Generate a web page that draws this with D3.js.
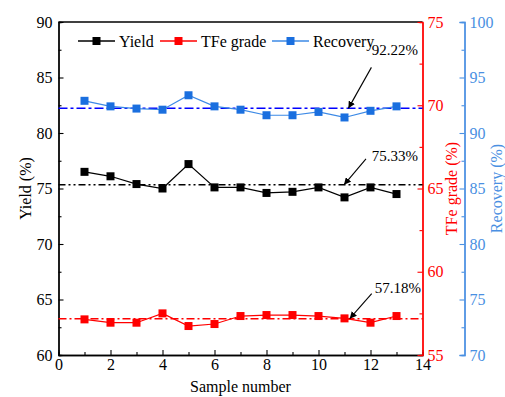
<!DOCTYPE html>
<html lang="en">
<head>
	<meta charset="UTF-8">
	<title>Yield, TFe grade and recovery by sample</title>
	<script src="https://cdn.jsdelivr.net/npm/d3@7"></script>
	<style>
		body {
			margin: 0;
			background: #fff;
		}
		svg text {
			font-family: "Liberation Serif", "Times New Roman", serif;
		}
	</style>
</head>
<body>
<script>
	// data
	var samples = [1, 2, 3, 4, 5, 6, 7, 8, 9, 10, 11, 12, 13];
	var yieldVals = [76.5, 76.1, 75.4, 75.0, 77.2, 75.1, 75.1, 74.6, 74.7, 75.1, 74.2, 75.1, 74.5];
	var gradeVals = [57.14, 56.94, 56.94, 57.5, 56.74, 56.86, 57.34, 57.4, 57.4, 57.34, 57.2, 56.94, 57.34];
	var recoveryVals = [92.9, 92.4, 92.2, 92.1, 93.4, 92.4, 92.1, 91.6, 91.6, 91.9, 91.4, 92.0, 92.4];
	var means = [75.33, 57.18, 92.22];
	var seriesNames = ["Yield", "TFe grade", "Recovery"];
	var xTicks = [0, 2, 4, 6, 8, 10, 12, 14];
	var yieldTicks = [60, 65, 70, 75, 80, 85, 90];
	var gradeTicks = [55, 60, 65, 70, 75];
	var recoveryTicks = [70, 75, 80, 85, 90, 95, 100];

	var width = 505,
		height = 397;
	// plot box (note: "top" is taken by window.top)
	var pLeft = 58.5, pRight = 422.5, pTop = 22, pBottom = 355;
	var axis3 = 464.5;

	var red = "#ff0000",
		blueMark = "#1a6fdf",
		blueLine = "#3d8ae6",
		blueAxis = "#4a90e2";

	var svg = d3.select("body").append("svg")
		.attr("width", width)
		.attr("height", height);

	var x = d3.scaleLinear().domain([0, 14]).range([pLeft, pRight]);
	var yY = d3.scaleLinear().domain([60, 90]).range([pBottom, pTop]);
	var yG = d3.scaleLinear().domain([55, 75]).range([pBottom, pTop]);
	var yR = d3.scaleLinear().domain([70, 100]).range([pBottom, pTop]);

	function styleAxis(g, color) {
		g.select(".domain").attr("stroke", color).attr("stroke-width", 1.3);
		g.selectAll(".tick line").attr("stroke", color).attr("stroke-width", 1.1);
		g.selectAll(".tick text")
			.attr("fill", color)
			.style("font-size", "16px")
			.style("font-family", "'Liberation Serif', serif");
	}

	function mids(ticks) {
		var m = [];
		for (var i = 0; i < ticks.length - 1; i++) m.push((ticks[i] + ticks[i + 1]) / 2);
		return m;
	}

	// top border
	svg.append("line")
		.attr("x1", pLeft).attr("x2", pRight)
		.attr("y1", pTop).attr("y2", pTop)
		.attr("stroke", "#000").attr("stroke-width", 1.3);

	// left axis
	svg.append("g")
		.attr("transform", "translate(" + pLeft + ",0)")
		.call(d3.axisLeft(yY).tickValues(mids(yieldTicks)).tickSize(-3).tickFormat(""))
		.call(styleAxis, "#000");
	svg.append("g")
		.attr("transform", "translate(" + pLeft + ",0)")
		.call(d3.axisLeft(yY).tickValues(yieldTicks).tickSize(-5).tickPadding(6).tickSizeOuter(0))
		.call(styleAxis, "#000");

	// bottom axis
	svg.append("g")
		.attr("transform", "translate(0," + pBottom + ")")
		.call(d3.axisBottom(x).tickValues(mids(xTicks)).tickSize(-3).tickFormat(""))
		.call(styleAxis, "#000");
	svg.append("g")
		.attr("transform", "translate(0," + pBottom + ")")
		.call(d3.axisBottom(x).tickValues(xTicks).tickSize(-5).tickPadding(4).tickSizeOuter(0))
		.call(styleAxis, "#000");

	// TFe grade axis (red)
	svg.append("g")
		.attr("transform", "translate(" + pRight + ",0)")
		.call(d3.axisRight(yG).tickValues(mids(gradeTicks)).tickSize(-3).tickFormat(""))
		.call(styleAxis, red);
	svg.append("g")
		.attr("transform", "translate(" + pRight + ",0)")
		.call(d3.axisRight(yG).tickValues(gradeTicks).tickSize(-5).tickPadding(5).tickSizeOuter(0))
		.call(styleAxis, red);

	// Recovery axis (blue)
	svg.append("g")
		.attr("transform", "translate(" + axis3 + ",0)")
		.call(d3.axisRight(yR).tickValues(mids(recoveryTicks)).tickSize(-3).tickFormat(""))
		.call(styleAxis, blueAxis);
	svg.append("g")
		.attr("transform", "translate(" + axis3 + ",0)")
		.call(d3.axisRight(yR).tickValues(recoveryTicks).tickSize(-5).tickPadding(5).tickSizeOuter(-5))
		.call(styleAxis, blueAxis);

	// axis titles
	svg.append("text")
		.attr("transform", "translate(31," + ((pTop + pBottom) / 2) + ") rotate(-90)")
		.attr("text-anchor", "middle")
		.style("font-size", "16px")
		.text("Yield (%)");
	svg.append("text")
		.attr("transform", "translate(457," + ((pTop + pBottom) / 2) + ") rotate(-90)")
		.attr("text-anchor", "middle")
		.attr("fill", red)
		.style("font-size", "16px")
		.text("TFe grade (%)");
	svg.append("text")
		.attr("transform", "translate(502," + ((pTop + pBottom) / 2) + ") rotate(-90)")
		.attr("text-anchor", "middle")
		.attr("fill", blueAxis)
		.style("font-size", "16px")
		.text("Recovery (%)");
	svg.append("text")
		.attr("x", (pLeft + pRight) / 2)
		.attr("y", 392)
		.attr("text-anchor", "middle")
		.style("font-size", "16px")
		.text("Sample number");

	// mean lines
	var meanDefs = [
		{ v: means[0], scale: yY, color: "#000", dash: "7,3,2,3,2,3" },
		{ v: means[1], scale: yG, color: red, dash: "8,3,2,3" },
		{ v: means[2], scale: yR, color: "#0000ff", dash: "9,3,3,3" }
	];
	svg.selectAll(".mean")
		.data(meanDefs)
		.enter().append("line")
		.attr("class", "mean")
		.attr("x1", pLeft).attr("x2", pRight)
		.attr("y1", function (d) { return d.scale(d.v); })
		.attr("y2", function (d) { return d.scale(d.v); })
		.attr("stroke", function (d) { return d.color; })
		.attr("stroke-width", 1.5)
		.attr("stroke-dasharray", function (d) { return d.dash; });

	// series
	var series = [
		{ name: seriesNames[0], vals: yieldVals, scale: yY, line: "#000", mark: "#000" },
		{ name: seriesNames[1], vals: gradeVals, scale: yG, line: red, mark: red },
		{ name: seriesNames[2], vals: recoveryVals, scale: yR, line: blueLine, mark: blueMark }
	];
	var ms = 8;

	series.forEach(function (s) {
		var line = d3.line()
			.x(function (d, i) { return x(samples[i]); })
			.y(function (d) { return s.scale(d); });

		svg.append("path")
			.datum(s.vals)
			.attr("fill", "none")
			.attr("stroke", s.line)
			.attr("stroke-width", 1.2)
			.attr("d", line);

		svg.selectAll(null)
			.data(s.vals)
			.enter().append("rect")
			.attr("x", function (d, i) { return x(samples[i]) - ms / 2; })
			.attr("y", function (d) { return s.scale(d) - ms / 2; })
			.attr("width", ms)
			.attr("height", ms)
			.attr("fill", s.mark);
	});

	// legend
	var legendX = [78, 160, 272];
	var legend = svg.selectAll(".legend")
		.data(series)
		.enter().append("g")
		.attr("class", "legend")
		.attr("transform", function (d, i) { return "translate(" + legendX[i] + ",41)"; });
	legend.append("line")
		.attr("x1", 0).attr("x2", 37)
		.attr("stroke", function (d) { return d.line; })
		.attr("stroke-width", 1.3);
	legend.append("rect")
		.attr("x", 18.5 - ms / 2).attr("y", -ms / 2)
		.attr("width", ms).attr("height", ms)
		.attr("fill", function (d) { return d.mark; });
	legend.append("text")
		.attr("x", 41)
		.attr("y", 5.5)
		.style("font-size", "16px")
		.text(function (d) { return d.name; });

	// arrows to mean values
	svg.append("defs").append("marker")
		.attr("id", "head")
		.attr("viewBox", "0 0 10 10")
		.attr("refX", 10).attr("refY", 5)
		.attr("markerWidth", 7).attr("markerHeight", 7)
		.attr("markerUnits", "userSpaceOnUse")
		.attr("orient", "auto")
		.append("path")
		.attr("d", "M0,0L10,5L0,10z")
		.attr("fill", "#000");

	var notes = [
		{ v: means[2], scale: yR, at: 11.15, dx: 23, dy: -41, ty: -53, tx: 418 },
		{ v: means[0], scale: yY, at: 10.98, dx: 22, dy: -26, ty: -24, tx: 418 },
		{ v: means[1], scale: yG, at: 11.2, dx: 22, dy: -25, ty: -26, tx: 421 }
	];
	notes.forEach(function (n) {
		var px = x(n.at), py = n.scale(n.v);
		svg.append("line")
			.attr("x1", px + n.dx).attr("y1", py + n.dy)
			.attr("x2", px).attr("y2", py)
			.attr("stroke", "#000")
			.attr("stroke-width", 1.1)
			.attr("marker-end", "url(#head)");
		svg.append("text")
			.attr("x", n.tx)
			.attr("y", py + n.ty)
			.attr("text-anchor", "end")
			.style("font-size", "15px")
			.text(n.v.toFixed(2) + "%");
	});
</script>
</body>
</html>
